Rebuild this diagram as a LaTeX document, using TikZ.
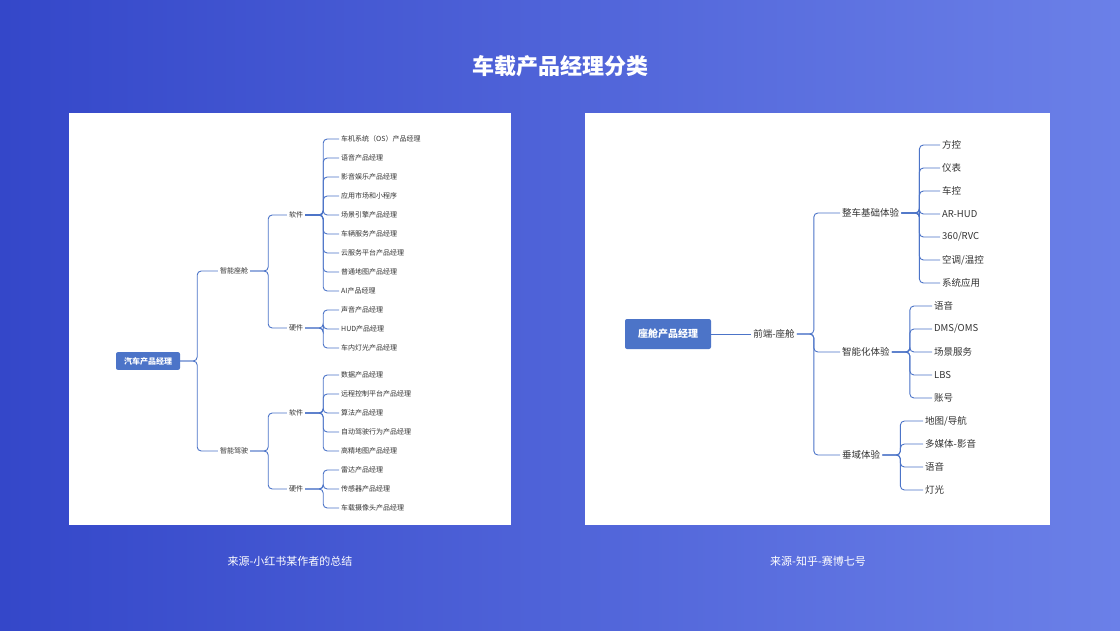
\documentclass[tikz,border=0pt]{standalone}
\usepackage{fontspec}
\setmainfont{Noto Sans CJK SC}
\usetikzlibrary{positioning}
\definecolor{bgdark}{HTML}{3447C9}
\definecolor{bglight}{HTML}{6B80E8}
\definecolor{mapblue}{HTML}{4C74C8}
\definecolor{inkgray}{HTML}{333333}
\tikzset{
  link/.style={draw=mapblue, line width=0.9pt, rounded corners=4pt},
  rootbox/.style={fill=mapblue, rounded corners=2pt, text=white, font=\bfseries\fontsize{#1}{#1}\selectfont, inner xsep=8pt, inner ysep=5pt},
  lnode/.style={text=inkgray, font=\fontsize{7}{8}\selectfont, inner sep=2pt},
  leafL/.style={lnode, anchor=west},
  rnode/.style={text=inkgray, font=\fontsize{9.5}{11}\selectfont, inner sep=2pt},
  leafR/.style={rnode, anchor=west},
}
\begin{document}
\begin{tikzpicture}[x=1pt,y=-1pt]
  \shade[left color=bgdark, right color=bglight] (0,0) rectangle (1120,630);
  \useasboundingbox (0,0) rectangle (1120,630);
  \node[text=white, font=\bfseries\fontsize{22}{24}\selectfont] (title) at (560,66) {车载产品经理分类};
  \fill[white] (69,113) rectangle (511,525);
  \fill[white] (585,113) rectangle (1050,525);
  \node[text=white, font=\fontsize{11}{12}\selectfont] (capL) at (290,561) {来源-小红书某作者的总结};
  \node[text=white, font=\fontsize{11}{12}\selectfont] (capR) at (818,561) {来源-知乎-赛博七号};

  % left map
  \node[rootbox=8] (carpm) at (148,361) {汽车产品经理};
  \node[lnode] (cabin) at (234,271) {智能座舱};
  \node[lnode] (drive) at (234,451) {智能驾驶};
  \node[lnode] (csw) at (296,215) {软件};
  \node[lnode] (chw) at (296,328) {硬件};
  \node[lnode] (dsw) at (296,413) {软件};
  \node[lnode] (dhw) at (296,489) {硬件};
  \foreach \c in {cabin,drive} \draw[link] (carpm.east) -- ++(17,0) |- (\c.west);
  \foreach \c in {csw,chw} \draw[link] (cabin.east) -- ++(18,0) |- (\c.west);
  \foreach \c in {dsw,dhw} \draw[link] (drive.east) -- ++(18,0) |- (\c.west);
  \foreach \t [count=\i] in {车机系统（OS）产品经理,语音产品经理,影音娱乐产品经理,应用市场和小程序,场景引擎产品经理,车辆服务产品经理,云服务平台产品经理,普通地图产品经理,AI产品经理}{
    \node[leafL] (cs\i) at (339,{120+19*\i}) {\t};
    \draw[link] (csw.east) -- ++(18,0) |- (cs\i.west);
  }
  \foreach \t [count=\i] in {声音产品经理,HUD产品经理,车内灯光产品经理}{
    \node[leafL] (ch\i) at (339,{291+19*\i}) {\t};
    \draw[link] (chw.east) -- ++(18,0) |- (ch\i.west);
  }
  \foreach \t [count=\i] in {数据产品经理,远程控制平台产品经理,算法产品经理,自动驾驶行为产品经理,高精地图产品经理}{
    \node[leafL] (ds\i) at (339,{356+19*\i}) {\t};
    \draw[link] (dsw.east) -- ++(18,0) |- (ds\i.west);
  }
  \foreach \t [count=\i] in {雷达产品经理,传感器产品经理,车载摄像头产品经理}{
    \node[leafL] (dh\i) at (339,{451+19*\i}) {\t};
    \draw[link] (dhw.east) -- ++(18,0) |- (dh\i.west);
  }

  % right map
  \node[rootbox=10, minimum width=86pt, minimum height=30pt] (cockpit) at (668,334) {座舱产品经理};
  \node[rnode] (front) at (774,334) {前端-座舱};
  \draw[link] (cockpit.east) -- (front.west);
  \node[leafR] (basic) at (840,213) {整车基础体验};
  \node[leafR] (smart) at (840,352) {智能化体验};
  \node[leafR] (vert) at (840,455) {垂域体验};
  \foreach \c in {basic,smart,vert} \draw[link] (front.east) -- ++(17,0) |- (\c.west);
  \foreach \t [count=\i] in {方控,仪表,车控,AR-HUD,360/RVC,空调/温控,系统应用}{
    \node[leafR] (b\i) at (940,{122+23*\i}) {\t};
    \draw[link] (basic.east) -- ++(18,0) |- (b\i.west);
  }
  \foreach \t [count=\i] in {语音,DMS/OMS,场景服务,LBS,账号}{
    \node[leafR] (s\i) at (932,{283+23*\i}) {\t};
    \draw[link] (smart.east) -- ++(18,0) |- (s\i.west);
  }
  \foreach \t [count=\i] in {地图/导航,多媒体-影音,语音,灯光}{
    \node[leafR] (v\i) at (923,{398+23*\i}) {\t};
    \draw[link] (vert.east) -- ++(18,0) |- (v\i.west);
  }
\end{tikzpicture}
\end{document}
